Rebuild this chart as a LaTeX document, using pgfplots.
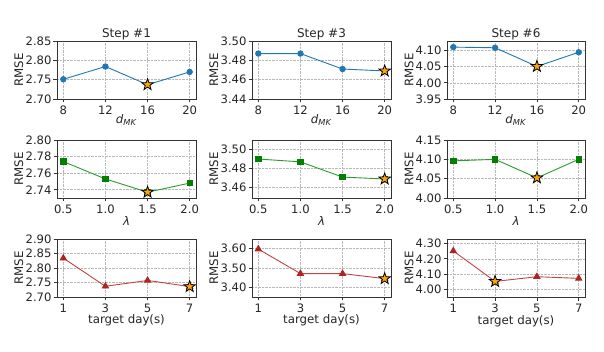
\documentclass[border=0pt]{standalone}
\usepackage{fontspec}
\setmainfont{DejaVu Sans}
\usepackage{pgfplots}
\pgfplotsset{compat=1.18}
\definecolor{mblue}{HTML}{1F77B4}
\definecolor{mgreen}{HTML}{008000}
\definecolor{lgreen}{HTML}{2E9A2E}
\definecolor{mred}{HTML}{B22222}
\definecolor{lred}{HTML}{C04444}
\definecolor{morange}{HTML}{FFA500}
\definecolor{txt}{HTML}{262626}
\pgfdeclareplotmark{fstar}{%
  \pgfpathmoveto{\pgfpointpolar{90}{\pgfplotmarksize}}%
  \pgfpathlineto{\pgfpointpolar{126}{0.4\pgfplotmarksize}}%
  \pgfpathlineto{\pgfpointpolar{162}{\pgfplotmarksize}}%
  \pgfpathlineto{\pgfpointpolar{198}{0.4\pgfplotmarksize}}%
  \pgfpathlineto{\pgfpointpolar{234}{\pgfplotmarksize}}%
  \pgfpathlineto{\pgfpointpolar{270}{0.4\pgfplotmarksize}}%
  \pgfpathlineto{\pgfpointpolar{306}{\pgfplotmarksize}}%
  \pgfpathlineto{\pgfpointpolar{342}{0.4\pgfplotmarksize}}%
  \pgfpathlineto{\pgfpointpolar{18}{\pgfplotmarksize}}%
  \pgfpathlineto{\pgfpointpolar{54}{0.4\pgfplotmarksize}}%
  \pgfpathclose
  \pgfusepathqfillstroke}
\pgfplotsset{
  base/.style={
    scale only axis, width=139pt, height=58pt,
    anchor=north west,
    font=\fontsize{11.6}{13}\selectfont,
    every tick label/.append style={font=\fontsize{11.6}{13}\selectfont, text=txt},
    every axis title/.style={at={(0.5,1)}, anchor=base, yshift=3pt, text=txt, font=\fontsize{12}{14}\selectfont},
    every axis y label/.style={at={(axis description cs:-0.275,0.5)}, rotate=90, anchor=center, text=txt, font=\fontsize{11.8}{13}\selectfont},
    every axis x label/.style={at={(axis description cs:0.5,0)}, anchor=base, yshift=-27pt, text=txt, font=\fontsize{11.8}{13}\selectfont},
    /pgf/number format/assume math mode=true,
    axis line style={black!80, line width=0.8pt},
    grid=major, grid style={densely dotted, gray!55, line width=0.6pt},
    tick align=outside, tick pos=left,
    major tick length=3.5pt,
    every tick/.style={black!80, line width=0.8pt},
    ylabel={RMSE},
    yticklabel style={xshift=1.5pt, /pgf/number format/.cd, fixed, fixed zerofill, precision=2},
  },
  r1/.style={base, xmin=7.4, xmax=20.6, xtick={8,12,16,20},
    xlabel={\textit{d}\textsubscript{\textit{MK}}},
    x label style={yshift=2pt}},
  r2/.style={base, xmin=0.425, xmax=2.075, xtick={0.5,1.0,1.5,2.0},
    xticklabel style={/pgf/number format/.cd, fixed, fixed zerofill, precision=1},
    xlabel={\textit{λ}}, x label style={yshift=-1pt}},
  r3/.style={base, xmin=0.7, xmax=7.3, xtick={1,3,5,7},
    xlabel={target day(s)}},
  bl/.style={color=mblue, line width=0.9pt, mark=*, mark size=2.7pt, mark options={fill=mblue, draw=mblue}},
  gr/.style={color=lgreen, line width=0.9pt, mark=square*, mark size=2.7pt, mark options={fill=mgreen, draw=mgreen}},
  rd/.style={color=lred, line width=0.9pt, mark=triangle*, mark size=3.5pt, mark options={fill=mred, draw=mred}},
  st/.style={only marks, mark=fstar, mark size=6pt, mark options={fill=morange, draw=black, line width=0.8pt}},
}
\begin{document}
\begin{tikzpicture}
\useasboundingbox (0,0) rectangle (604pt,-352pt);
% Row 1
\begin{axis}[r1, at={(57pt,-41pt)}, title={Step \#1}, ymin=2.70, ymax=2.85, ytick={2.70,2.75,2.80,2.85}]
\addplot[bl] coordinates {(8,2.751) (12,2.784) (16,2.737) (20,2.770)};
\addplot[st] coordinates {(16,2.737)};
\end{axis}
\begin{axis}[r1, at={(252pt,-41pt)}, title={Step \#3}, ymin=3.44, ymax=3.50, ytick={3.44,3.46,3.48,3.50}]
\addplot[bl] coordinates {(8,3.487) (12,3.487) (16,3.471) (20,3.469)};
\addplot[st] coordinates {(20,3.469)};
\end{axis}
\begin{axis}[r1, at={(447pt,-41pt)}, width=138pt, title={Step \#6}, ymin=3.95, ymax=4.13, ytick={3.95,4.00,4.05,4.10}]
\addplot[bl] coordinates {(8,4.111) (12,4.109) (16,4.051) (20,4.095)};
\addplot[st] coordinates {(16,4.051)};
\end{axis}
% Row 2
\begin{axis}[r2, at={(57pt,-140pt)}, ymin=2.73, ymax=2.80, ytick={2.74,2.76,2.78,2.80}]
\addplot[gr] coordinates {(0.5,2.774) (1.0,2.753) (1.5,2.737) (2.0,2.748)};
\addplot[st] coordinates {(1.5,2.737)};
\end{axis}
\begin{axis}[r2, at={(252pt,-140pt)}, ymin=3.449, ymax=3.51, ytick={3.46,3.48,3.50}]
\addplot[gr] coordinates {(0.5,3.490) (1.0,3.487) (1.5,3.471) (2.0,3.469)};
\addplot[st] coordinates {(2.0,3.469)};
\end{axis}
\begin{axis}[r2, at={(447pt,-140pt)}, width=138pt, ymin=4.00, ymax=4.15, ytick={4.00,4.05,4.10,4.15}]
\addplot[gr] coordinates {(0.5,4.096) (1.0,4.100) (1.5,4.052) (2.0,4.100)};
\addplot[st] coordinates {(1.5,4.052)};
\end{axis}
% Row 3
\begin{axis}[r3, at={(57pt,-239pt)}, ymin=2.70, ymax=2.90, ytick={2.70,2.75,2.80,2.85,2.90}]
\addplot[rd] coordinates {(1,2.834) (3,2.737) (5,2.757) (7,2.736)};
\addplot[st] coordinates {(7,2.736)};
\end{axis}
\begin{axis}[r3, at={(252pt,-239pt)}, ymin=3.35, ymax=3.65, ytick={3.40,3.50,3.60}]
\addplot[rd] coordinates {(1,3.598) (3,3.471) (5,3.471) (7,3.445)};
\addplot[st] coordinates {(7,3.445)};
\end{axis}
\begin{axis}[r3, at={(447pt,-239pt)}, width=138pt, ymin=3.95, ymax=4.33, ytick={4.00,4.10,4.20,4.30}]
\addplot[rd] coordinates {(1,4.252) (3,4.052) (5,4.083) (7,4.072)};
\addplot[st] coordinates {(3,4.052)};
\end{axis}
\end{tikzpicture}
\end{document}
